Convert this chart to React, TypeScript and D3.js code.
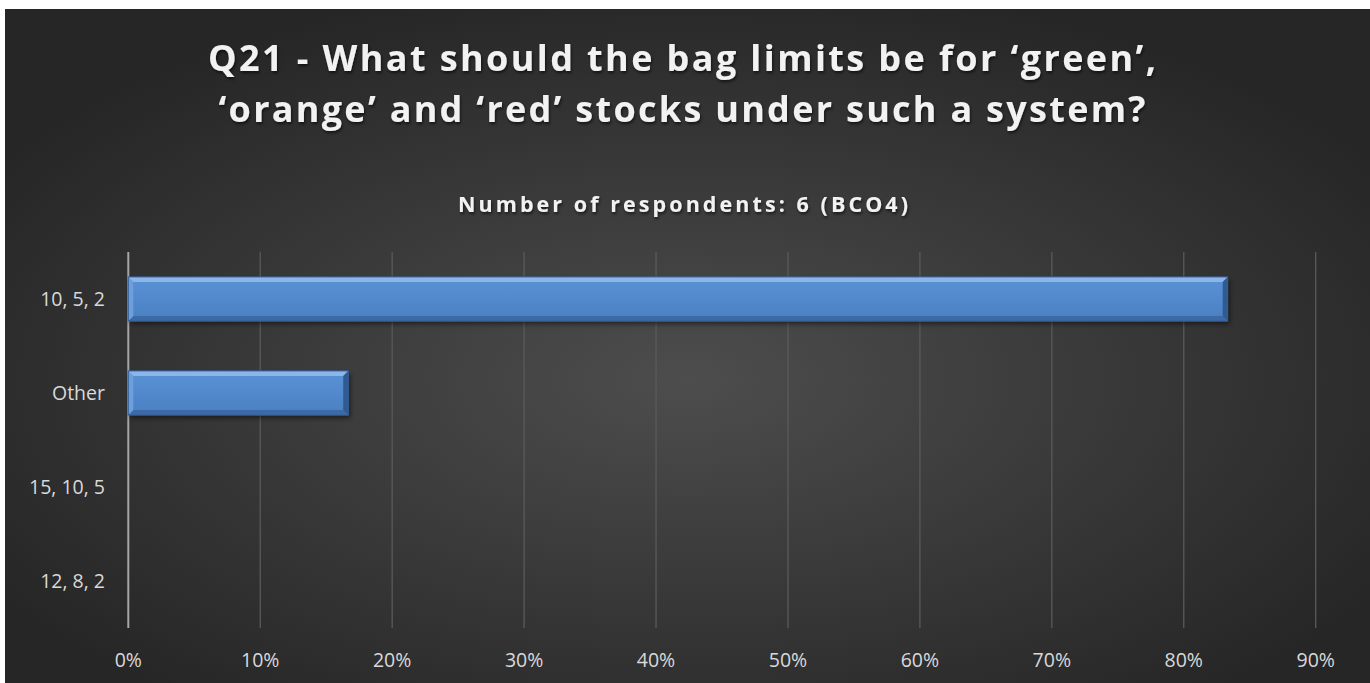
import React from "react";
import * as d3 from "d3";

const categories = ["10, 5, 2", "Other", "15, 10, 5", "12, 8, 2"];
const values = [0.8333, 0.1667, 0, 0];
const xTicks = [0, 0.1, 0.2, 0.3, 0.4, 0.5, 0.6, 0.7, 0.8, 0.9];
const titleLines = ["Q21 - What should the bag limits be for \u2018green\u2019,", "\u2018orange\u2019 and \u2018red\u2019 stocks under such a system?"];
const subtitle = "Number of respondents: 6 (BCO4)";

const W = 1370;
const H = 683;
const bg = { x: 5, y: 9 };
const plot = { left: 128.3, right: 1315.7, top: 252, bottom: 628 };
const cx = 682;

export default function App() {
  const x = d3.scaleLinear().domain([0, 0.9]).range([plot.left, plot.right]);
  const y = d3.scaleBand<string>().domain(categories).range([plot.top, plot.bottom]).paddingInner(0.53).paddingOuter(0.265);
  const fmt = d3.format(".0%");
  const bw = 5;
  return (
    <svg width={W} height={H} style={{ position: "absolute", left: 0, top: 0, fontFamily: "'Open Sans', sans-serif" }}>
      <defs>
        <radialGradient id="bgGrad" cx="0.5" cy="0.55" r="0.6" gradientUnits="objectBoundingBox">
          <stop offset="0" stopColor="#4d4d4d" />
          <stop offset="1" stopColor="#262626" />
        </radialGradient>
        <linearGradient id="barGrad" x1="0" y1="0" x2="0" y2="1">
          <stop offset="0" stopColor="#5a92d6" />
          <stop offset="1" stopColor="#4a80c2" />
        </linearGradient>
        <filter id="shadow" x="-5%" y="-30%" width="110%" height="160%">
          <feDropShadow dx="2" dy="3" stdDeviation="2.5" floodColor="#000" floodOpacity="0.5" />
        </filter>
        <filter id="tshadow" x="-5%" y="-30%" width="110%" height="160%">
          <feDropShadow dx="1" dy="2" stdDeviation="1.5" floodColor="#000" floodOpacity="0.6" />
        </filter>
      </defs>
      <rect x={bg.x} y={bg.y} width={W - bg.x} height={H - bg.y} fill="url(#bgGrad)" />
      <g filter="url(#tshadow)" fill="#f2f2f2" fontWeight="bold" textAnchor="middle">
        <text x={cx} y={71} fontSize={36} textLength={948} lengthAdjust="spacing">{titleLines[0]}</text>
        <text x={cx} y={122} fontSize={36} textLength={927} lengthAdjust="spacing">{titleLines[1]}</text>
        <text x={cx + 1} y={212} fontSize={21.5} textLength={450} lengthAdjust="spacing">{subtitle}</text>
      </g>
      {xTicks.map((t, i) => (
        <line key={"g" + i} x1={x(t)} x2={x(t)} y1={plot.top} y2={plot.bottom}
          stroke={i === 0 ? "#a6a6a6" : "#5a5a5a"} strokeWidth={i === 0 ? 2 : 1.3} />
      ))}
      {xTicks.map((t, i) => (
        <text key={"t" + i} x={x(t)} y={667} fill="#d9d9d9" fontSize={19.5} textAnchor="middle">{fmt(t)}</text>
      ))}
      {categories.map((c) => (
        <text key={"c" + c} x={105} y={(y(c) as number) + y.bandwidth() / 2 + 7} fill="#d9d9d9" fontSize={19.5} textAnchor="end">{c}</text>
      ))}
      {categories.map((c, i) => {
        const x0 = x(0);
        const x1 = x(values[i]);
        const y0 = y(c) as number;
        const h = y.bandwidth();
        if (x1 - x0 < 1) return null;
        const y1 = y0 + h;
        return (
          <g key={"b" + c}>
            <rect x={x0} y={y0} width={x1 - x0} height={h} fill="url(#barGrad)" filter="url(#shadow)" />
            <polygon points={`${x0},${y0} ${x1},${y0} ${x1 - bw},${y0 + bw} ${x0 + bw},${y0 + bw}`} fill="#8cb6ea" />
            <polygon points={`${x0},${y1} ${x1},${y1} ${x1 - bw},${y1 - bw} ${x0 + bw},${y1 - bw}`} fill="#3c6aa6" />
            <polygon points={`${x0},${y0} ${x0 + bw},${y0 + bw} ${x0 + bw},${y1 - bw} ${x0},${y1}`} fill="#6c9fdc" />
            <polygon points={`${x1},${y0} ${x1 - bw},${y0 + bw} ${x1 - bw},${y1 - bw} ${x1},${y1}`} fill="#2f5a92" />
            <rect x={x0} y={y0} width={x1 - x0} height={h} fill="none" stroke="#355f96" strokeWidth={1} />
          </g>
        );
      })}
    </svg>
  );
}
